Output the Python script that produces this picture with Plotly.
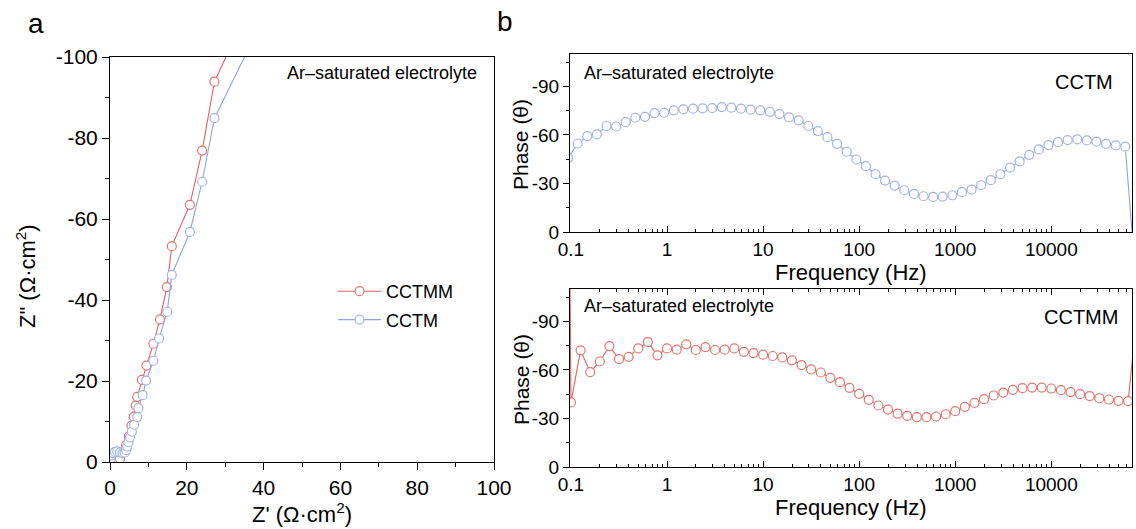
import plotly.graph_objects as go

W, H = 1136, 529
def px(x): return x / W
def py(y): return 1 - y / H

RED_LINE, RED_MK = "#e2625f", "#e87470"
BLUE_LINE, BLUE_MK = "#8da4dd", "#a2b4e6"
FONT = "Liberation Sans, Arial, sans-serif"

# ---------------- Nyquist data (panel a) ----------------
zre_cctmm = [1.8, 2.6, 3.4, 4.2, 4.9, 5.6, 6.2, 6.7, 7.1, 8.3, 9.5, 11.3, 13.0, 14.8, 16.1, 20.8, 24.0, 27.2, 35.1]
zim_cctmm = [0.0, -0.8, -2.4, -4.2, -6.3, -9.0, -11.2, -13.9, -16.1, -20.3, -23.8, -29.2, -35.2, -43.2, -53.3, -63.5, -76.9, -93.9, -110.0]

zre_cctm = [0.2, 0.4, 0.8, 1.3, 1.9, 2.6, 3.3, 3.8, 4.2, 4.5, 4.8, 5.2, 5.7, 6.3, 7.1, 7.4, 8.5, 9.4, 11.3, 12.8, 14.9, 16.1, 20.8, 24.0, 27.2, 40.2]
zim_cctm = [-0.8, -1.6, -2.2, -2.5, -2.6, -2.4, -2.2, -2.3, -2.9, -3.8, -4.9, -6.1, -7.5, -9.2, -11.1, -13.3, -16.5, -20.1, -25.0, -30.5, -37.1, -46.2, -56.8, -69.2, -84.9, -110.0]

# ---------------- Bode phase data (panel b) ----------------
freq_cctm = [0.0933,
             0.1175, 0.1479, 0.1862, 0.2344, 0.2951, 0.3715, 0.4677, 0.5888, 0.7413, 0.9333,
             1.175, 1.479, 1.862, 2.344, 2.951, 3.715, 4.677, 5.888, 7.413, 9.333,
             11.75, 14.79, 18.62, 23.44, 29.51, 37.15, 46.77, 58.88, 74.13, 93.33,
             117.5, 147.9, 186.2, 234.4, 295.1, 371.5, 467.7, 588.8, 741.3, 933.3,
             1175, 1479, 1862, 2344, 2951, 3715, 4677, 5888, 7413, 9333,
             11749, 14791, 18621, 23442, 29512, 37154, 46774, 58884,
             74131]
phase_cctm = [-45.7,
              -54.7, -59.3, -60.3, -65.5, -65.2, -67.9, -70.6, -71.2, -73.5, -73.7,
              -75.2, -75.8, -76.2, -76.4, -76.6, -77.2, -76.8, -76.2, -75.6, -75.2,
              -74.3, -72.9, -70.8, -69.0, -65.5, -62.4, -58.6, -54.5, -49.6, -44.8,
              -40.7, -35.7, -31.8, -28.7, -25.8, -23.5, -22.1, -21.7, -21.9, -22.7,
              -24.6, -26.2, -28.9, -32.0, -35.7, -39.8, -43.6, -47.7, -51.0, -53.7,
              -55.5, -56.8, -57.2, -56.6, -55.8, -54.5, -53.5, -52.7,
              22.6]

freq_cctmm = [0.07943,
              0.1, 0.1259, 0.1585, 0.1995, 0.2512, 0.3162, 0.3981, 0.5012, 0.6310, 0.7943,
              1, 1.259, 1.585, 1.995, 2.512, 3.162, 3.981, 5.012, 6.310, 7.943,
              10, 12.59, 15.85, 19.95, 25.12, 31.62, 39.81, 50.12, 63.10, 79.43,
              100, 125.9, 158.5, 199.5, 251.2, 316.2, 398.1, 501.2, 631.0, 794.3,
              1000, 1259, 1585, 1995, 2512, 3162, 3981, 5012, 6310, 7943,
              10000, 12589, 15849, 19953, 25119, 31623, 39811, 50119, 63096,
              79433]
phase_cctmm = [-800.0,
               -39.9, -72.1, -58.6, -65.2, -74.7, -66.7, -68.1, -73.3, -77.2, -69.0,
               -73.3, -72.5, -75.8, -72.3, -74.1, -72.3, -72.5, -73.3, -71.2, -70.4,
               -69.4, -68.6, -67.7, -65.9, -63.0, -60.3, -58.4, -55.1, -52.4, -48.9,
               -45.2, -41.5, -38.0, -35.5, -33.0, -31.6, -30.8, -30.8, -31.2, -32.6,
               -34.5, -37.2, -39.6, -41.9, -44.2, -46.0, -47.7, -48.7, -49.1, -49.1,
               -48.5, -47.5, -46.3, -45.0, -43.8, -42.5, -41.7, -40.9, -40.7,
               -99.0]

# ---------------- tick definitions ----------------
nyq_ticks = [0, 20, 40, 60, 80, 100]
nyq_minor = [10, 30, 50, 70, 90]
nyq_y_ticks = [0, -20, -40, -60, -80, -100]
nyq_y_text = ["0", "-20", "-40", "-60", "-80", "-100"]
nyq_y_minor = [-10, -30, -50, -70, -90]

freq_ticks = [0.1, 1, 10, 100, 1000, 10000]
freq_text = ["0.1", "1", "10", "100", "1000", "10000"]
freq_minor = [m * d for d in [0.1, 1, 10, 100, 1000, 10000] for m in range(2, 10)]
phase_ticks = [0, -30, -60, -90]
phase_text = ["0", "-30", "-60", "-90"]
phase_minor = [-15, -45, -75, -105]

fig = go.Figure()

mk = lambda c: dict(symbol="circle", size=9, color="white", line=dict(color=c, width=1.2))

fig.add_trace(go.Scatter(x=zre_cctmm, y=zim_cctmm, mode="lines+markers", name="CCTMM", legendgroup="a",
                         line=dict(color=RED_LINE, width=1.1), marker=mk(RED_MK),
                         xaxis="x", yaxis="y"))
fig.add_trace(go.Scatter(x=zre_cctm, y=zim_cctm, mode="lines+markers", name="CCTM", legendgroup="b",
                         line=dict(color=BLUE_LINE, width=1.1), marker=mk(BLUE_MK),
                         xaxis="x", yaxis="y"))
fig.add_trace(go.Scatter(x=freq_cctm, y=phase_cctm, mode="lines+markers", showlegend=False,
                         line=dict(color=BLUE_LINE, width=1.1), marker=mk(BLUE_MK),
                         xaxis="x2", yaxis="y2"))
fig.add_trace(go.Scatter(x=freq_cctmm, y=phase_cctmm, mode="lines+markers", showlegend=False,
                         line=dict(color=RED_LINE, width=1.1), marker=mk(RED_MK),
                         xaxis="x3", yaxis="y3"))

common = dict(showgrid=False, zeroline=False, showline=True, linecolor="black", linewidth=1,
              tickcolor="black", tickwidth=1, automargin=False)

fig.update_layout(
    template="none",
    width=W, height=H, margin=dict(l=0, r=0, t=0, b=0, pad=0), autosize=False,
    paper_bgcolor="white", plot_bgcolor="white",
    font=dict(family=FONT, color="black"),
    xaxis=dict(domain=[px(110), px(494)], range=[0, 100], anchor="y",
               tickmode="array", tickvals=nyq_ticks, ticks="outside", ticklen=7,
               minor=dict(tickmode="array", tickvals=nyq_minor, ticks="outside", ticklen=4, tickcolor="black"),
               mirror=True, tickfont=dict(size=21), **common),
    yaxis=dict(domain=[py(462), py(57)], range=[0, -100], anchor="x",
               tickmode="array", tickvals=nyq_y_ticks, ticktext=nyq_y_text, ticks="outside", ticklen=7,
               minor=dict(tickmode="array", tickvals=nyq_y_minor, ticks="outside", ticklen=4, tickcolor="black"),
               mirror=True, tickfont=dict(size=21), **common),
    xaxis2=dict(domain=[px(570), px(1132)], type="log", range=[-1.01, 4.84], anchor="y2",
                tickmode="array", tickvals=freq_ticks, ticktext=freq_text, ticks="inside", ticklen=6,
                minor=dict(tickmode="array", tickvals=freq_minor, ticks="inside", ticklen=3, tickcolor="black"),
                mirror=True, tickfont=dict(size=19), **common),
    yaxis2=dict(domain=[py(232), py(54)], range=[0, -110], anchor="x2",
                tickmode="array", tickvals=phase_ticks, ticktext=phase_text, ticks="outside", ticklen=6,
                minor=dict(tickmode="array", tickvals=phase_minor, ticks="outside", ticklen=3, tickcolor="black"),
                mirror=True, tickfont=dict(size=19), layer="below traces", **common),
    xaxis3=dict(domain=[px(570), px(1132)], type="log", range=[-1.01, 4.84], anchor="y3",
                tickmode="array", tickvals=freq_ticks, ticktext=freq_text, ticks="inside", ticklen=6,
                minor=dict(tickmode="array", tickvals=freq_minor, ticks="inside", ticklen=3, tickcolor="black"),
                mirror="ticks", tickfont=dict(size=19), **common),
    yaxis3=dict(domain=[py(467), py(289)], range=[0, -110], anchor="x3",
                tickmode="array", tickvals=phase_ticks, ticktext=phase_text, ticks="outside", ticklen=6,
                minor=dict(tickmode="array", tickvals=phase_minor, ticks="outside", ticklen=3, tickcolor="black"),
                mirror=True, tickfont=dict(size=19), layer="below traces", **common),
    legend=dict(x=px(333), y=py(273), xanchor="left", yanchor="top", bgcolor="rgba(0,0,0,0)",
                font=dict(size=18), traceorder="grouped", tracegroupgap=2, borderwidth=0,
                itemwidth=43),
)

def ann(text, x, y, size, xanchor="center", yanchor="middle", angle=0):
    fig.add_annotation(text=text, x=px(x), y=py(y), xref="paper", yref="paper",
                       xanchor=xanchor, yanchor=yanchor, showarrow=False, textangle=angle,
                       font=dict(size=size, family=FONT, color="black"))

ann("a", 36, 24, 28)
ann("b", 505, 22, 28)
ann("Z' (Ω·cm<sup>2</sup>)", 302, 513, 22)
ann('Z" (Ω·cm<sup>2</sup>)', 26, 276, 22, angle=-90)
ann("Ar–saturated electrolyte", 479, 73, 18, xanchor="right")
ann("Phase (θ)", 521, 145, 21, angle=-90)
ann("Phase (θ)", 521, 380, 21, angle=-90)
ann("Frequency (Hz)", 851, 272, 22)
ann("Frequency (Hz)", 851, 507, 22)
ann("Ar–saturated electrolyte", 582, 73, 18, xanchor="left")
ann("Ar–saturated electrolyte", 582, 306, 18, xanchor="left")
ann("CCTM", 1115, 82, 20, xanchor="right")
ann("CCTMM", 1120, 317, 20, xanchor="right")

fig.write_html("out.html")
